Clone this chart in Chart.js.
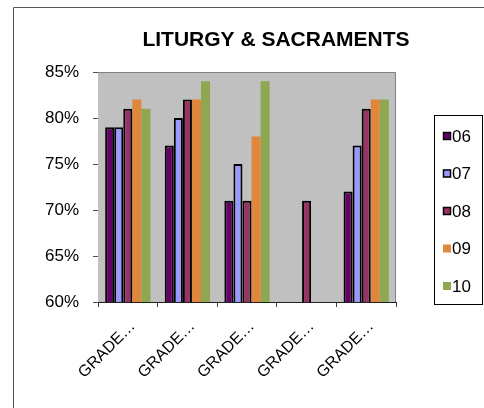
<!DOCTYPE html>
<html>
<head>
<meta charset="utf-8">
<script src="https://cdn.jsdelivr.net/npm/chart.js@4/dist/chart.umd.min.js"></script>
<style>
  html, body { margin: 0; padding: 0; background: #fff; }
  #wrap { position: relative; width: 484px; height: 408px; overflow: hidden; }
</style>
</head>
<body>
<div id="wrap"><canvas id="chart" width="484" height="408"></canvas></div>
<script>
const categories = ['GRADE…', 'GRADE…', 'GRADE…', 'GRADE…', 'GRADE…'];
const s06 = [79, 77, 71, null, 72];
const s07 = [79, 80, 75, null, 77];
const s08 = [81, 82, 71, 71, 81];
const s09 = [82, 82, 78, null, 82];
const s10 = [81, 84, 84, null, 82];
const seriesNames = ['06', '07', '08', '09', '10'];
const yMin = 60, yMax = 85, yStep = 5;

const FONT = '"Liberation Sans", Arial, sans-serif';
const colors = ['#660066', '#9999FF', '#993366', '#E0873E', '#8DA850'];
const borders = [2, 2, 2, 0, 0];

const datasets = [s06, s07, s08, s09, s10].map((d, i) => ({
    label: seriesNames[i],
    data: d,
    backgroundColor: colors[i],
    borderColor: '#000',
    borderWidth: borders[i],
    borderSkipped: false,
    categoryPercentage: 0.76,
    barPercentage: 1.0
}));

// grey plot area, frame, title and boxed legend
const decor = {
    id: 'decor',
    beforeDatasetsDraw(chart) {
        const {ctx, chartArea: a} = chart;
        ctx.save();
        ctx.fillStyle = '#C0C0C0';
        ctx.fillRect(a.left, a.top, a.right - a.left, a.bottom - a.top);
        ctx.restore();
    },
    beforeDraw(chart) {
        const ctx = chart.ctx;
        ctx.save();
        ctx.fillStyle = '#fff';
        ctx.fillRect(0, 0, chart.width, chart.height);
        ctx.strokeStyle = '#555';
        ctx.lineWidth = 1;
        ctx.beginPath();
        ctx.moveTo(13.5, 408);
        ctx.lineTo(13.5, 7.5);
        ctx.lineTo(484, 7.5);
        ctx.stroke();
        ctx.restore();
    },
    afterDraw(chart) {
        const {ctx, chartArea: a} = chart;
        ctx.save();
        // plot border top/right
        ctx.strokeStyle = '#808080';
        ctx.lineWidth = 1;
        ctx.beginPath();
        ctx.moveTo(a.left, a.top + 0.5);
        ctx.lineTo(a.right - 0.5, a.top + 0.5);
        ctx.lineTo(a.right - 0.5, a.bottom);
        ctx.stroke();

        // title
        ctx.fillStyle = '#000';
        ctx.font = 'bold 21px ' + FONT;
        ctx.textAlign = 'center';
        ctx.textBaseline = 'middle';
        ctx.fillText('LITURGY & SACRAMENTS', 276, 40);

        // legend box
        ctx.strokeStyle = '#000';
        ctx.strokeRect(434.5, 115.5, 48, 189);
        const ys = [136, 173.5, 211, 248.5, 286];
        ctx.font = '17px ' + FONT;
        ctx.textAlign = 'left';
        chart.data.datasets.forEach((ds, i) => {
            const y = ys[i];
            ctx.fillStyle = ds.backgroundColor;
            ctx.fillRect(443, y - 4, 8, 8);
            if (ds.borderWidth) {
                ctx.strokeStyle = '#000';
                ctx.lineWidth = 1.5;
                ctx.strokeRect(443.5, y - 3.5, 7, 7);
            }
            ctx.fillStyle = '#000';
            ctx.fillText(ds.label, 452, y + 1);
        });
        ctx.restore();
    }
};

new Chart(document.getElementById('chart'), {
    type: 'bar',
    data: { labels: categories, datasets },
    plugins: [decor],
    options: {
        responsive: false,
        animation: false,
        layout: { padding: { left: 0, right: 88, top: 72, bottom: 0 } },
        plugins: {
            legend: { display: false },
            title: { display: false },
            tooltip: { enabled: false }
        },
        scales: {
            x: {
                afterFit: (s) => { s.height = 106; },
                grid: {
                    offset: true,
                    drawOnChartArea: false,
                    drawTicks: true,
                    tickLength: 5,
                    color: '#404040'
                },
                border: { color: '#202020', width: 1 },
                ticks: {
                    color: '#000',
                    font: { family: FONT, size: 16 },
                    minRotation: 45,
                    maxRotation: 45,
                    autoSkip: false,
                    padding: 10,
                    labelOffset: 5
                }
            },
            y: {
                min: yMin,
                max: yMax,
                afterFit: (s) => { s.width = 98; },
                grid: {
                    color: '#505050',
                    tickLength: 5,
                    lineWidth: 1
                },
                border: { color: '#202020', width: 1 },
                ticks: {
                    stepSize: yStep,
                    color: '#000',
                    font: { family: FONT, size: 17 },
                    padding: 14,
                    callback: (v) => v + '%'
                }
            }
        }
    }
});
</script>
</body>
</html>
